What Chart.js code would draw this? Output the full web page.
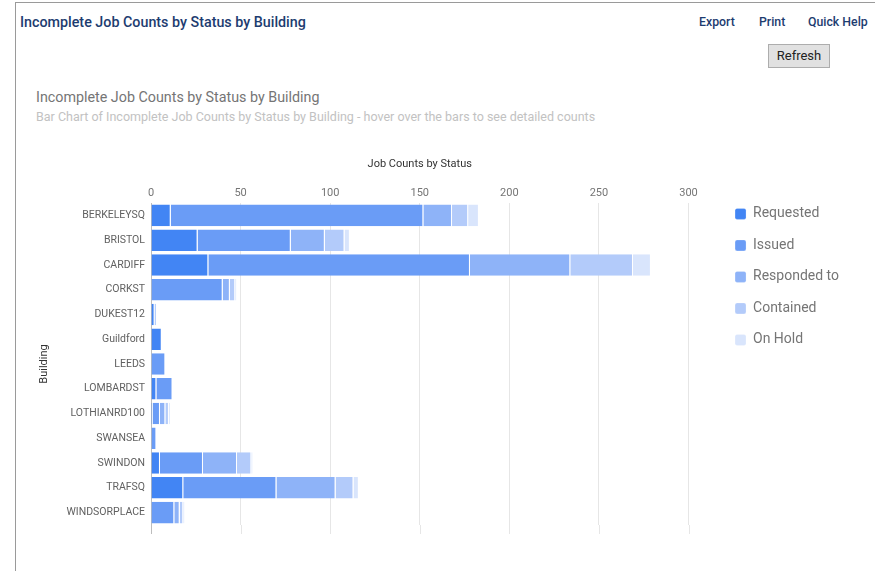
<!DOCTYPE html>
<html>
<head>
<meta charset="utf-8">
<title>Incomplete Job Counts by Status by Building</title>
<script src="https://cdn.jsdelivr.net/npm/chart.js@4.4.1/dist/chart.umd.min.js"></script>
<style>
  html, body { margin: 0; padding: 0; background: #fff; width: 875px; height: 571px; overflow: hidden; font-family: Roboto, "Noto Sans", sans-serif; }
  .frame { position: absolute; left: 15px; top: 2px; right: -2px; bottom: -2px; border-left: 1px solid #9a9a9a; border-top: 1px solid #9a9a9a; }
  .head { position: absolute; left: 20px; top: 13px; font-size: 14.3px; font-weight: 500; color: #1d3c70; line-height: 18px; white-space: nowrap; }
  .link { position: absolute; top: 14px; font-size: 12.3px; font-weight: 500; color: #1d3c70; line-height: 16px; white-space: nowrap; }
  .btn { position: absolute; left: 768px; top: 44px; width: 60px; height: 22px; border: 1px solid #adadad; background: #e1e1e1; font-size: 13px; line-height: 22px; text-align: center; color: #222; }
  .ctitle { position: absolute; left: 36px; top: 88px; font-size: 14.3px; color: #757575; line-height: 18px; white-space: nowrap; }
  .csub { position: absolute; left: 36px; top: 109px; font-size: 12.5px; color: #c2c2c2; line-height: 16px; white-space: nowrap; }
  #wrap { position: absolute; left: 20px; top: 140px; width: 855px; height: 431px; }
</style>
</head>
<body>
<div class="frame"></div>
<div class="head">Incomplete Job Counts by Status by Building</div>
<div class="link" style="left:699px">Export</div>
<div class="link" style="left:759px">Print</div>
<div class="link" style="left:808px">Quick Help</div>
<div class="btn">Refresh</div>
<div class="ctitle">Incomplete Job Counts by Status by Building</div>
<div class="csub">Bar Chart of Incomplete Job Counts by Status by Building - hover over the bars to see detailed counts</div>
<div id="wrap"><canvas id="chart"></canvas></div>
<script>
// data
const buildings = ['BERKELEYSQ', 'BRISTOL', 'CARDIFF', 'CORKST', 'DUKEST12', 'Guildford', 'LEEDS',
  'LOMBARDST', 'LOTHIANRD100', 'SWANSEA', 'SWINDON', 'TRAFSQ', 'WINDSORPLACE'];
const requested = [11, 26, 32, 0, 2, 6, 0, 3, 1, 0, 5, 18, 0];
const issued    = [141, 52, 146, 40, 1, 0, 8, 9, 4, 3, 24, 52, 13];
const responded = [16, 19, 56, 4, 0, 0, 0, 0, 3, 0, 19, 33, 3];
const contained = [9, 11, 35, 3, 0, 0, 0, 0, 2, 0, 8, 10, 2];
const onHold    = [6, 3, 10, 1, 0, 0, 0, 0, 1, 0, 1, 3, 1];
const statusNames = ['Requested', 'Issued', 'Responded to', 'Contained', 'On Hold'];
const xTicks = [0, 50, 100, 150, 200, 250, 300];

const statusColors = ['#4285f4', '#6a9cf6', '#8eb3f8', '#b3cbfa', '#d9e5fc'];
const gridColor = '#e6e6e6';
const baseColor = '#bdbdbd';

Chart.defaults.font.family = 'Roboto';

// google-style gridlines run a bit past the last bar
const gridTail = {
  id: 'gridTail',
  beforeDatasetsDraw(chart) {
    const { ctx, chartArea, scales: { x } } = chart;
    ctx.save();
    ctx.lineWidth = 1;
    x.ticks.forEach(t => {
      const px = Math.round(x.getPixelForValue(t.value)) + 0.5;
      ctx.strokeStyle = t.value === 0 ? baseColor : gridColor;
      ctx.beginPath();
      ctx.moveTo(px, chartArea.bottom);
      ctx.lineTo(px, chartArea.bottom + 9);
      ctx.stroke();
    });
    ctx.restore();
  }
};

const series = [requested, issued, responded, contained, onHold];
const datasets = series.map((vals, i) => ({
  label: statusNames[i],
  data: vals,
  backgroundColor: statusColors[i],
  borderColor: '#ffffff',
  borderWidth: { right: 1 },
  borderSkipped: false,
  stack: 'jobs',
  barPercentage: 0.87,
  categoryPercentage: 1
}));

new Chart(document.getElementById('chart').getContext('2d'), {
  type: 'bar',
  data: { labels: buildings, datasets: datasets },
  options: {
    indexAxis: 'y',
    responsive: true,
    maintainAspectRatio: false,
    animation: false,
    layout: { padding: { top: 14, right: 26, bottom: 46, left: 14 } },
    scales: {
      x: {
        position: 'top',
        stacked: true,
        min: 0,
        max: 300,
        afterBuildTicks: s => { s.ticks = xTicks.map(v => ({ value: v })); },
        afterFit: s => { s.height = 49; },
        grid: {
          drawTicks: false,
          color: c => (c.tick && c.tick.value === 0 ? baseColor : gridColor)
        },
        border: { display: false },
        ticks: { color: '#757575', font: { size: 11 }, padding: 3 },
        title: { display: true, text: 'Job Counts by Status', color: '#333', font: { size: 11 }, padding: { top: 4, bottom: 4 } }
      },
      y: {
        stacked: true,
        afterFit: s => { s.width = 117; },
        grid: { display: false, drawTicks: false },
        border: { display: false },
        ticks: { color: '#616161', font: { size: 10.5 }, padding: 6 },
        title: { display: true, text: 'Building', color: '#333', font: { size: 11 }, padding: { top: 4, bottom: 4 } }
      },
      y2: {
        type: 'category',
        position: 'right',
        afterFit: s => { s.width = 29; },
        grid: { display: false, drawTicks: false },
        border: { display: false },
        ticks: { display: false }
      }
    },
    plugins: {
      tooltip: { enabled: false },
      legend: {
        position: 'right',
        align: 'start',
        title: { display: true, text: '', font: { size: 12 }, padding: { top: 21, bottom: 0 } },
        labels: {
          boxWidth: 11,
          boxHeight: 11,
          padding: 17.5,
          color: '#757575',
          font: { size: 14 },
          useBorderRadius: true,
          borderRadius: 2
        }
      }
    }
  },
  plugins: [gridTail]
});
</script>
</body>
</html>
